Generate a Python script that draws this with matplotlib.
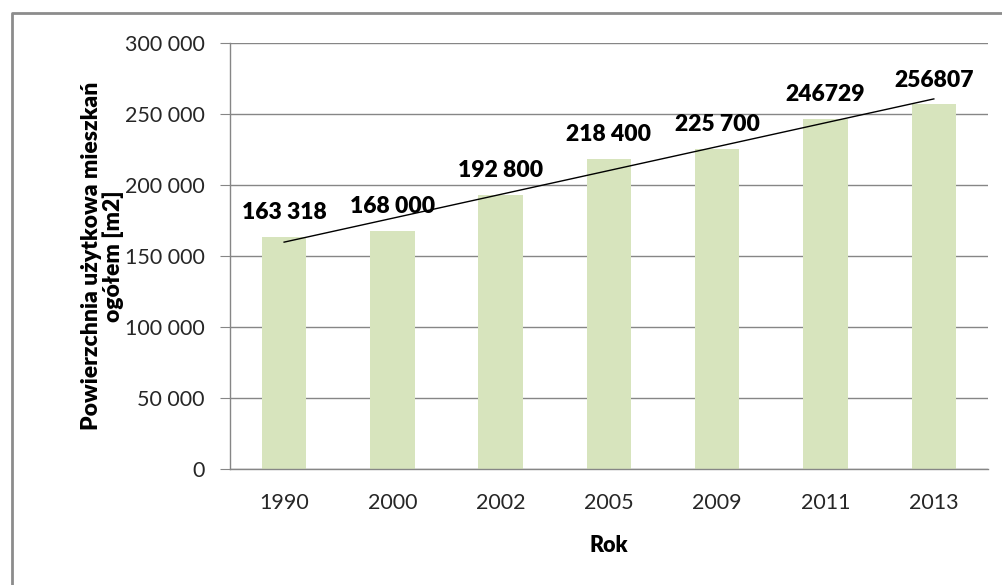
import matplotlib
matplotlib.use("Agg")
import matplotlib.pyplot as plt
from matplotlib.lines import Line2D
import numpy as np

# Dane
lata = ["1990", "2000", "2002", "2005", "2009", "2011", "2013"]
powierzchnia = [163318, 168000, 192800, 218400, 225700, 246729, 256807]
etykiety = ["163 318", "168 000", "192 800", "218 400", "225 700", "246729", "256807"]
y_ticks = [0, 50000, 100000, 150000, 200000, 250000, 300000]
y_tick_labels = ["0", "50 000", "100 000", "150 000", "200 000", "250 000", "300 000"]

plt.rcParams["font.family"] = ["Lato", "DejaVu Sans"]

fig = plt.figure(figsize=(10.02, 5.85), dpi=100)
ax = fig.add_axes([0.2295, 0.1983, 0.7565, 0.728])

x = np.arange(len(lata))
ax.bar(x, powierzchnia, width=0.41, color="#d7e4bd", zorder=2)

# linia trendu (liniowa)
a, b = np.polyfit(x, powierzchnia, 1)
ax.plot([x[0], x[-1]], [a * x[0] + b, a * x[-1] + b], color="black", lw=1.0, zorder=3)

# etykiety danych
for xi, val, lab in zip(x, powierzchnia, etykiety):
    ax.annotate(lab, (xi, val), xytext=(0, 10), textcoords="offset points",
                ha="center", va="bottom", fontsize=16.5, fontweight="heavy", color="black")

ax.set_xlim(-0.5, len(lata) - 0.5)
ax.set_ylim(0, 300000)
ax.set_yticks(y_ticks)
ax.set_yticklabels(y_tick_labels)
ax.set_xticks(x)
ax.set_xticklabels(lata)

ax.yaxis.grid(True, color="#868686", lw=1.0, zorder=0)
ax.set_axisbelow(True)
for s in ["top", "right"]:
    ax.spines[s].set_visible(False)
for s in ["left", "bottom"]:
    ax.spines[s].set_color("#868686")
    ax.spines[s].set_linewidth(1.0)

ax.tick_params(axis="y", length=7, color="#868686", labelsize=15.5, labelcolor="#262626", pad=11)
ax.tick_params(axis="x", length=0, labelsize=15.5, labelcolor="#262626", pad=17)

ax.set_xlabel("Rok", fontsize=15.5, fontweight="heavy", labelpad=16)
ax.set_ylabel("Powierzchnia użytkowa mieszkań\nogółem [m2]", fontsize=16.5,
              fontweight="heavy", labelpad=1, linespacing=1.0)

# ramka wykresu
fig.add_artist(Line2D([0.0115, 0.0115, 1.0], [0.0, 0.978, 0.978],
                      transform=fig.transFigure, color="#8c8c8c", lw=2.0))

fig.savefig("out.png", dpi=100)
